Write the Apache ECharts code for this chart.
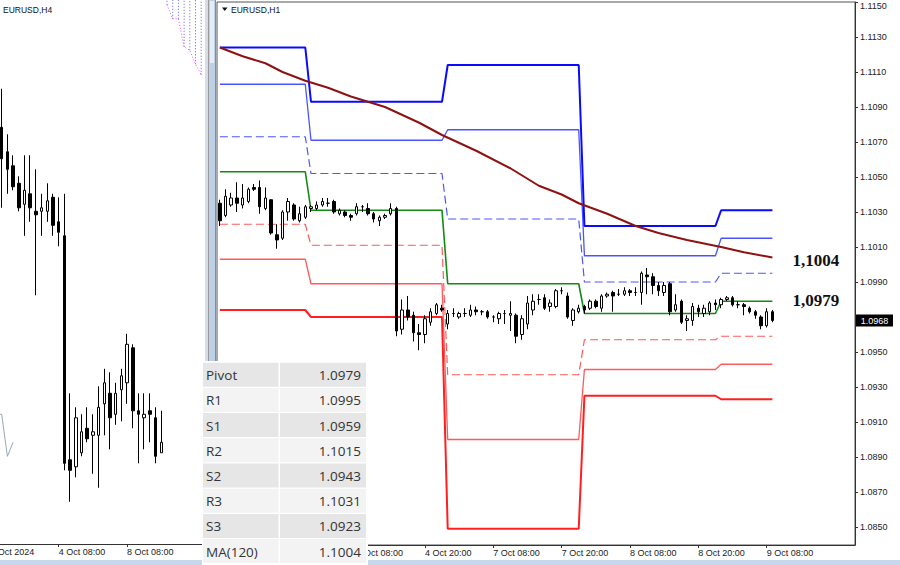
<!DOCTYPE html>
<html><head><meta charset="utf-8">
<script src="https://cdn.jsdelivr.net/npm/echarts@6/dist/echarts.min.js"></script>
<style>html,body{margin:0;padding:0;background:#fff}#c{width:900px;height:565px}</style>
</head><body><div id="c"></div>
<script>
// ---------------- H1 (right pane) ----------------
const h1Sessions = [['3 Oct',8,23],['4 Oct',0,23],['7 Oct',0,23],['8 Oct',0,23],['9 Oct',0,23]];
const h1TickLabels = ['4 Oct 08:00','4 Oct 20:00','7 Oct 08:00','7 Oct 20:00','8 Oct 08:00','8 Oct 20:00','9 Oct 08:00'];
const h1YTicks = [1.0850,1.0870,1.0890,1.0910,1.0930,1.0950,1.0970,1.0990,1.1010,1.1030,1.1050,1.1070,1.1090,1.1110,1.1130,1.1150];
// [open, close, low, high]
const h1Candles = [
 [1.1035,1.1025,1.1022,1.1037],[1.1028,1.1039,1.1027,1.1043],[1.1034,1.1038,1.1033,1.1041],[1.1038,1.1035,1.1030,1.1047],
 [1.1034,1.1038,1.1032,1.1046],[1.1036,1.1043,1.1035,1.1044],[1.1044,1.1043,1.1042,1.1046],[1.1044,1.1033,1.1029,1.1048],
 [1.1032,1.1038,1.1031,1.1044],[1.1037,1.1018,1.1017,1.1037],[1.1017,1.1014,1.1009,1.1023],[1.1015,1.1030,1.1014,1.1031],
 [1.1030,1.1036,1.1025,1.1038],[1.1034,1.1026,1.1025,1.1035],[1.1025,1.1029,1.1024,1.1033],[1.1027,1.1033,1.1026,1.1034],
 [1.1032,1.1033,1.1030,1.1034],[1.1032,1.1034,1.1031,1.1036],[1.1034,1.1036,1.1033,1.1038],[1.1035,1.1035,1.1033,1.1038],
 [1.1036,1.1030,1.1029,1.1037],[1.1029,1.1031,1.1028,1.1032],[1.1030,1.1028,1.1027,1.1031],[1.1028,1.1027,1.1025,1.1029],
 [1.1029,1.1033,1.1028,1.1035],[1.1033,1.1033,1.1030,1.1034],[1.1032,1.1029,1.1028,1.1035],[1.1029,1.1026,1.1024,1.1030],
 [1.1025,1.1027,1.1022,1.1028],[1.1027,1.1028,1.1026,1.1029],[1.1029,1.1032,1.1028,1.1035],[1.1032,1.0962,1.0959,1.1033],
 [1.0963,1.0974,1.0960,1.0980],[1.0974,1.0970,1.0968,1.0982],[1.0971,1.0961,1.0956,1.0973],[1.0961,1.0960,1.0951,1.0966],
 [1.0960,1.0969,1.0955,1.0971],[1.0967,1.0973,1.0965,1.0975],[1.0972,1.0977,1.0971,1.0978],[1.0975,1.0974,1.0973,1.0977],
 [1.0966,1.0972,1.0963,1.0974],[1.0972,1.0972,1.0970,1.0975],[1.0970,1.0972,1.0969,1.0973],[1.0972,1.0972,1.0970,1.0975],
 [1.0971,1.0974,1.0970,1.0977],[1.0974,1.0973,1.0971,1.0976],[1.0973,1.0973,1.0971,1.0974],[1.0973,1.0970,1.0969,1.0974],
 [1.0970,1.0970,1.0967,1.0971],[1.0969,1.0972,1.0966,1.0973],[1.0972,1.0972,1.0966,1.0974],[1.0971,1.0972,1.0962,1.0979],
 [1.0971,1.0959,1.0955,1.0972],[1.0960,1.0969,1.0957,1.0971],[1.0966,1.0978,1.0963,1.0982],[1.0974,1.0979,1.0971,1.0983],
 [1.0980,1.0980,1.0977,1.0983],[1.0981,1.0975,1.0974,1.0983],[1.0976,1.0978,1.0973,1.0980],[1.0976,1.0985,1.0975,1.0986],
 [1.0985,1.0985,1.0983,1.0987],[1.0982,1.0970,1.0969,1.0984],[1.0968,1.0974,1.0965,1.0975],[1.0973,1.0975,1.0972,1.0977],
 [1.0976,1.0974,1.0972,1.0977],[1.0975,1.0979,1.0974,1.0980],[1.0979,1.0976,1.0975,1.0980],[1.0975,1.0982,1.0973,1.0983],
 [1.0982,1.0983,1.0981,1.0984],[1.0984,1.0982,1.0973,1.0985],[1.0983,1.0983,1.0982,1.0986],[1.0983,1.0985,1.0982,1.0987],
 [1.0985,1.0984,1.0982,1.0986],[1.0984,1.0984,1.0982,1.0987],[1.0984,1.0995,1.0977,1.0996],[1.0994,1.0993,1.0983,1.0998],
 [1.0993,1.0988,1.0983,1.0995],[1.0988,1.0985,1.0982,1.0990],[1.0984,1.0988,1.0982,1.0990],[1.0989,1.0973,1.0971,1.0990],
 [1.0974,1.0977,1.0973,1.0983],[1.0979,1.0967,1.0966,1.0980],[1.0968,1.0969,1.0962,1.0971],[1.0968,1.0976,1.0965,1.0978],
 [1.0975,1.0973,1.0970,1.0977],[1.0972,1.0975,1.0970,1.0977],[1.0973,1.0978,1.0971,1.0979],[1.0978,1.0977,1.0974,1.0980],
 [1.0977,1.0980,1.0975,1.0981],[1.0980,1.0981,1.0979,1.0982],[1.0981,1.0977,1.0976,1.0982],[1.0977,1.0977,1.0975,1.0979],
 [1.0977,1.0976,1.0971,1.0978],[1.0975,1.0973,1.0972,1.0976],[1.0973,1.0971,1.0969,1.0974],[1.0970,1.0965,1.0963,1.0971],
 [1.0965,1.0973,1.0964,1.0975],[1.0973,1.0968,1.0967,1.0974]
];
// daily classic pivot levels, one value per trading day of h1Sessions
const r3Levels    = [1.1124,1.1093,1.1114,1.1022,1.1031];
const r2Levels    = [1.1103,1.1071,1.1077,1.1005,1.1015];
const r1Levels    = [1.1073,1.1052,1.1026,1.0990,1.0995];
const pivotLevels = [1.1053,1.1031,1.0989,1.0972,1.0979];
const s1Levels    = [1.1023,1.1011,1.0937,1.0957,1.0959];
const s2Levels    = [1.1003,1.0989,1.0900,1.0940,1.0943];
const s3Levels    = [1.0974,1.0970,1.0849,1.0925,1.0923];
// MA(120) readings: [bar index, value]
const maPoints = [[0,1.1124],[4,1.1119],[8,1.1115],[11,1.1110],[15,1.1105],[19,1.1101],[23,1.1096],[26,1.1093],[29,1.1090],[31,1.1087],[35,1.1081],[39,1.1074],[45,1.1065],[51,1.1055],[56,1.1045],[60,1.1040],[63,1.1035],[68,1.1029],[73,1.1022],[77,1.1018],[82,1.1014],[88,1.1010],[92,1.1007],[97,1.1004]];

// ---------------- H4 (left pane) ----------------
const h4Sessions = [['2 Oct',8,20],['3 Oct',0,20],['4 Oct',0,20],['7 Oct',0,20],['8 Oct',0,20],['9 Oct',0,20],['10 Oct',0,12]];
const h4TickAt = ['2 Oct 08:00','4 Oct 08:00','8 Oct 08:00'];
const h4TickText = ['2 Oct 2024','4 Oct 08:00','8 Oct 08:00'];
const h4FirstBar = '2 Oct 16:00';
const h4Candles = [
 [1.1058,1.1049,1.1035,1.1069],[1.1051,1.1046,1.1039,1.1056],[1.1047,1.1041,1.1040,1.1050],[1.1042,1.1035,1.1034,1.1044],
 [1.1036,1.1040,1.1027,1.1050],[1.1039,1.1035,1.1031,1.1050],[1.1034,1.1033,1.1010,1.1046],[1.1034,1.1035,1.1027,1.1039],
 [1.1034,1.1037,1.1031,1.1042],[1.1038,1.1030,1.1027,1.1039],[1.1031,1.1028,1.1024,1.1038],[1.1027,1.0962,1.0960,1.1039],
 [1.0963,1.0960,1.0951,1.0982],[1.0961,1.0975,1.0958,1.0978],[1.0965,1.0971,1.0964,1.0976],[1.0972,1.0969,1.0968,1.0978],
 [1.0970,1.0971,1.0959,1.0976],[1.0970,1.0978,1.0955,1.0984],[1.0979,1.0985,1.0970,1.0989],[1.0982,1.0975,1.0966,1.0988],
 [1.0976,1.0982,1.0973,1.0985],[1.0983,1.0987,1.0974,1.0989],[1.0985,1.0996,1.0979,1.0999],[1.0995,1.0977,1.0972,1.0996],
 [1.0977,1.0976,1.0962,1.0982],[1.0975,1.0976,1.0966,1.0982],[1.0977,1.0976,1.0968,1.0982],[1.0975,1.0964,1.0962,1.0978],
 [1.0965,1.0968,1.0965,1.0977]
];
const chikouPoints = [['2 Oct 12:00',1.0976],['2 Oct 16:00',1.0976],['2 Oct 20:00',1.0964],['3 Oct 00:00',1.0968]];
const cloudEdge = [['9 Oct 12:00',1.1093],['9 Oct 16:00',1.1089],['9 Oct 20:00',1.1089],['10 Oct 00:00',1.1081],['10 Oct 04:00',1.1080],['10 Oct 08:00',1.1076],['10 Oct 12:00',1.1073]];

// ---------------- table ----------------
const tableLabels = ['Pivot','R1','S1','R2','S2','R3','S3','MA(120)'];
const tableValues = ['1.0979','1.0995','1.0959','1.1015','1.0943','1.1031','1.0923','1.1004'];

// ---------------- build ----------------
function buildCats(sessions, step){
  const cats=[], dayOf=[];
  sessions.forEach((s,d)=>{ for(let h=s[1]; h<=s[2]; h+=step){ cats.push(s[0]+' '+String(h).padStart(2,'0')+':00'); dayOf.push(d);} });
  return {cats, dayOf};
}
const H1 = buildCats(h1Sessions,1);
const H4 = buildCats(h4Sessions,4);
const nBars = h1Candles.length;
function levelSeries(levels){ const out=[]; for(let i=0;i<nBars;i++) out.push(levels[H1.dayOf[i]]); return out; }
const h4Pad = H4.cats.indexOf(h4FirstBar);
const h4Data = [];
for(let i=0;i<h4Pad;i++) h4Data.push('-');
h4Candles.forEach(c=>h4Data.push(c));
const lastClose = h1Candles[nBars-1][1];
const lastMA = maPoints[maPoints.length-1][1];
const lastPivot = pivotLevels[pivotLevels.length-1];
const commaFmt = v => v.toFixed(4).replace('.', ',');
// the price tag hides the axis label right under it
const h1YLabelValues = h1YTicks.filter(v => Math.abs(v - lastClose) > 0.0005);

const H1_MIN = 1.083971, H1_MAX = 1.1150;
const H4_MIN = 1.093894, H4_MAX = 1.109437;
const FONT = 'Liberation Sans';

function lvl(name, levels, color, width, type, z){
  return {name, type:'line', xAxisIndex:0, yAxisIndex:0, data: levelSeries(levels), symbol:'none', silent:true,
    lineStyle:{color, width, type}, itemStyle:{color}, z: z||2};
}
const candleStyle = {color:'#ffffff', color0:'#000000', borderColor:'#000000', borderColor0:'#000000', borderWidth:1};
const annoLabel = {show:true, position:'inside', fontFamily:'Liberation Serif', fontWeight:'bold', fontSize:17, color:'#111'};

const seriesList = [
  lvl('R1', r1Levels, '#4e56ff', 1.2, [8,4]),
  lvl('S1', s1Levels, '#ff5a5a', 1.2, [8,4]),
  lvl('R2', r2Levels, '#4a52ff', 1.3, 'solid'),
  lvl('S2', s2Levels, '#ff5a5a', 1.3, 'solid', 4),
  lvl('R3', r3Levels, '#0a0aff', 2, 'solid'),
  lvl('S3', s3Levels, '#ff1f1f', 2, 'solid'),
  {name:'MA(120)', type:'line', xAxisIndex:0, yAxisIndex:0, data: maPoints, symbol:'none', silent:true,
   lineStyle:{color:'#8e1212', width:2}, itemStyle:{color:'#8e1212'}, z:3,
   markPoint:{symbol:'rect', symbolSize:1, itemStyle:{color:'rgba(0,0,0,0)'}, silent:true,
     data:[{coord:[105,lastMA], value:lastMA}],
     label:Object.assign({offset:[-2,3], formatter:()=>commaFmt(lastMA)}, annoLabel)}},
  {name:'Pivot', type:'line', xAxisIndex:0, yAxisIndex:0, data: levelSeries(pivotLevels), symbol:'none', silent:true,
   lineStyle:{color:'#138a13', width:1.6}, itemStyle:{color:'#138a13'}, z:3,
   markPoint:{symbol:'rect', symbolSize:1, itemStyle:{color:'rgba(0,0,0,0)'}, silent:true,
     data:[{coord:[105,lastPivot], value:lastPivot}],
     label:Object.assign({offset:[-2,-1], formatter:()=>commaFmt(lastPivot)}, annoLabel)}},
  {name:'EURUSD H1', type:'candlestick', xAxisIndex:0, yAxisIndex:0, data:h1Candles, barWidth:3, itemStyle:candleStyle, z:5, silent:true},
  // H4 pane
  {name:'EURUSD H4', type:'candlestick', xAxisIndex:1, yAxisIndex:1, data:h4Data, barWidth:3, itemStyle:candleStyle, z:5, silent:true},
  {name:'Chikou', type:'line', xAxisIndex:1, yAxisIndex:1, data:chikouPoints, symbol:'none', silent:true, lineStyle:{color:'#98a8ba', width:1}},
  {name:'Cloud hatch', type:'custom', xAxisIndex:1, yAxisIndex:1, data:cloudEdge, silent:true, clip:true,
   renderItem:(params, api)=>{ const p = api.coord([api.value(0), api.value(1)]); const t = api.coord([api.value(0), H4_MAX]);
     return {type:'line', shape:{x1:p[0], y1:p[1], x2:p[0], y2:t[1]}, style:{stroke:'#5a5aff', lineWidth:1, lineDash:[1,2]}}; }},
  {name:'Cloud edge', type:'line', xAxisIndex:1, yAxisIndex:1, data:cloudEdge, symbol:'none', silent:true, lineStyle:{color:'#ff44ff', width:1, type:[1,2]}}
];

const chart = echarts.init(document.getElementById('c'), null, {renderer:'svg'});
chart.setOption({
  animation:false,
  backgroundColor:'#ffffff',
  grid:[
    {left:217, top:2, width:638, height:543, show:true, borderColor:'#555', borderWidth:1, backgroundColor:'#fff', outerBoundsMode:'none', containLabel:false},
    {left:-12.55, top:0, width:216.6, height:544, outerBoundsMode:'none', containLabel:false}
  ],
  xAxis:[
    {gridIndex:0, type:'category', data:H1.cats, boundaryGap:true,
     axisLine:{show:true, lineStyle:{color:'#333'}},
     axisTick:{show:true, length:3, alignWithLabel:true, interval:(i,v)=>h1TickLabels.includes(v), lineStyle:{color:'#333'}},
     axisLabel:{interval:(i,v)=>h1TickLabels.includes(v), align:'left', margin:3, fontSize:9, fontFamily:FONT, color:'#222', formatter:v=>v},
     splitLine:{show:false}},
    {gridIndex:1, type:'category', data:H4.cats, boundaryGap:true,
     axisLine:{show:true, lineStyle:{color:'#333'}},
     axisTick:{show:true, length:3, alignWithLabel:true, interval:(i,v)=>h4TickAt.includes(v), lineStyle:{color:'#333'}},
     axisLabel:{interval:(i,v)=>h4TickAt.includes(v), align:'left', margin:3, fontSize:9, fontFamily:FONT, color:'#222', formatter:v=>h4TickText[h4TickAt.indexOf(v)]},
     splitLine:{show:false}}
  ],
  yAxis:[
    {gridIndex:0, type:'value', position:'right', min:H1_MIN, max:H1_MAX, scale:true,
     splitLine:{show:false},
     axisLine:{show:true, lineStyle:{color:'#333'}},
     axisTick:{show:true, length:3, customValues:h1YTicks, lineStyle:{color:'#333'}},
     axisLabel:{customValues:h1YLabelValues, fontSize:9, fontFamily:FONT, color:'#222', margin:5,
       formatter:v=>{ const s = Number(v).toFixed(4); return Math.abs(v-H1_MAX)<1e-6 ? '{t|'+s+'}' : s; },
       rich:{t:{fontSize:9, fontFamily:FONT, color:'#222', padding:[7,0,0,0]}}}},
    {gridIndex:1, type:'value', min:H4_MIN, max:H4_MAX, scale:true, show:false, splitLine:{show:false}}
  ],
  series: seriesList
});

// chrome, table and the last-price tag (tag placed through the axis scale)
const priceY = chart.convertToPixel({yAxisIndex:0}, lastClose);
const graphics = [
  {type:'rect', shape:{x:205,y:0,width:3,height:565}, style:{fill:'#d6dde6'}, z:50},
  {type:'rect', shape:{x:208,y:0,width:1,height:565}, style:{fill:'#9a9a9a'}, z:50},
  {type:'rect', shape:{x:209,y:0,width:6,height:565}, style:{fill:'#bcd0e8'}, z:50},
  {type:'rect', shape:{x:210,y:1,width:4,height:62}, style:{fill:'#e4edf7'}, z:51},
  {type:'rect', shape:{x:215,y:0,width:1,height:565}, style:{fill:'#8c8c8c'}, z:50},
  {type:'rect', shape:{x:0,y:560,width:900,height:5}, style:{fill:'#c8d8ec'}, z:50},
  {type:'text', x:3, y:9.5, style:{text:'EURUSD,H4', fontSize:8.5, fontFamily:FONT, fill:'#111', verticalAlign:'middle', align:'left'}, z:60},
  {type:'polygon', shape:{points:[[222,7.5],[227.5,7.5],[224.75,11]]}, style:{fill:'#111'}, z:60},
  {type:'text', x:231, y:9.5, style:{text:'EURUSD,H1', fontSize:8.5, fontFamily:FONT, fill:'#111', verticalAlign:'middle', align:'left'}, z:60},
  {type:'rect', shape:{x:856,y:priceY-6,width:37,height:12}, style:{fill:'#000'}, z:60},
  {type:'text', x:874.5, y:priceY+0.5, style:{text:lastClose.toFixed(4), fontSize:9, fontFamily:FONT, fill:'#fff', verticalAlign:'middle', align:'center'}, z:61},
  {type:'rect', shape:{x:202,y:361,width:166,height:204}, style:{fill:'#ffffff'}, z:100}
];
tableLabels.forEach((lab,k)=>{
  const y = 362.7 + k*25.2;
  const fill = k%2===0 ? '#e6e6e6' : '#f3f3f3';
  graphics.push({type:'rect', shape:{x:203,y:y,width:75.5,height:24}, style:{fill}, z:101});
  graphics.push({type:'rect', shape:{x:280,y:y,width:86,height:24}, style:{fill}, z:101});
  graphics.push({type:'text', x:206, y:y+12.5, style:{text:lab, fontSize:13.5, fontFamily:'Open Sans', fill:'#333', verticalAlign:'middle', align:'left'}, z:102});
  graphics.push({type:'text', x:361, y:y+12.5, style:{text:tableValues[k], fontSize:13.5, fontFamily:'Open Sans', fill:'#333', verticalAlign:'middle', align:'right'}, z:102});
});
chart.setOption({graphic: graphics});
</script></body></html>
